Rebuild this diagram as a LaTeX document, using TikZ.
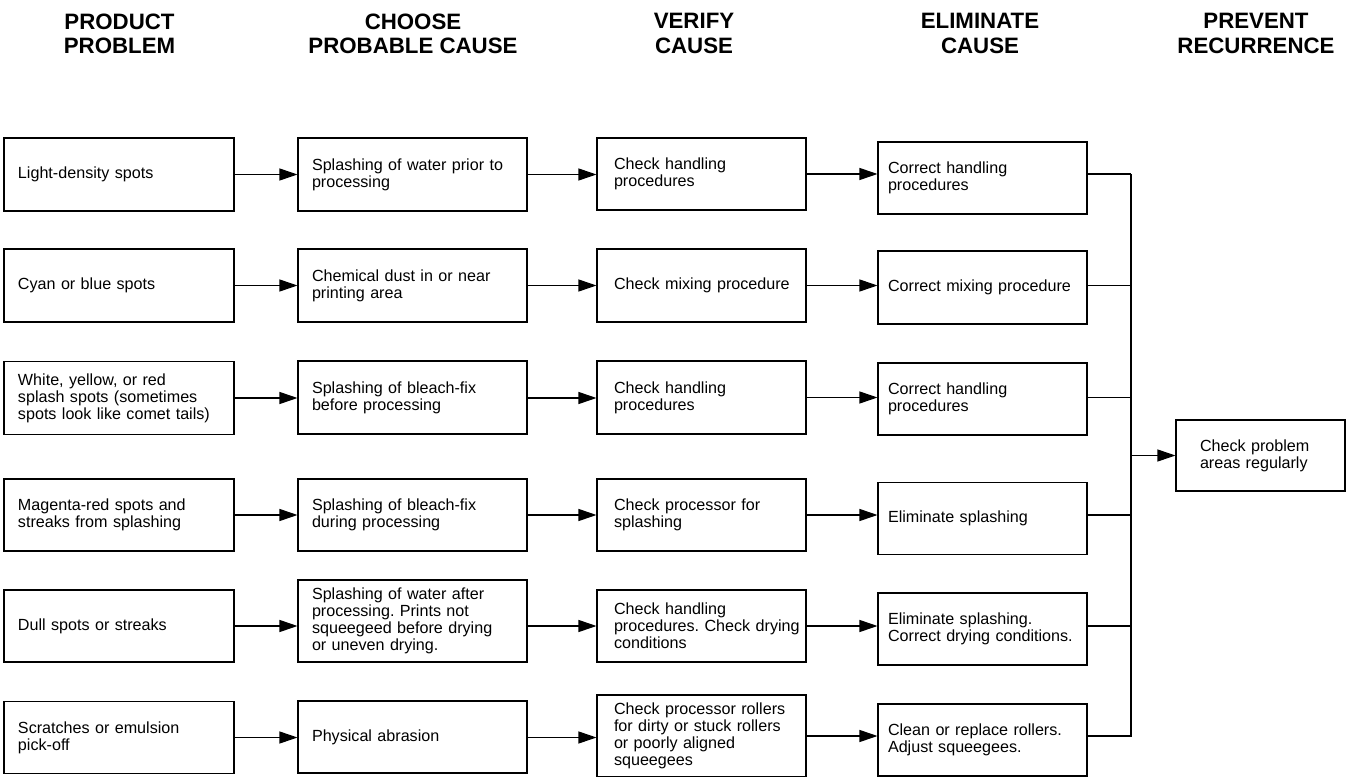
\documentclass[tikz,border=0pt]{standalone}
\usepackage{fontspec}
\setmainfont{Liberation Sans}
\usetikzlibrary{arrows.meta}
\tikzset{
  box/.style={draw=black, line width=0.8pt, rectangle, inner sep=0pt, align=left,
    font=\fontsize{12.1}{12.8}\selectfont},
  cA/.style={box, minimum width=172.5pt, text width=168pt, execute at begin node={\leftskip=8.25pt}},
  cB/.style={box, minimum width=171.75pt, text width=167.25pt, execute at begin node={\leftskip=8.25pt}},
  cC/.style={box, minimum width=156.75pt, text width=152.25pt, execute at begin node={\leftskip=10.5pt}},
  cD/.style={box, minimum width=156.75pt, text width=152.25pt, execute at begin node={\leftskip=5.25pt}},
  cE/.style={box, minimum width=126.75pt, text width=122.25pt, execute at begin node={\leftskip=15.75pt}},
  h72/.style={minimum height=54pt},
  h73/.style={minimum height=54.75pt},
  h82/.style={minimum height=61.5pt},
  hdr/.style={align=center, inner sep=0pt, font=\fontsize{16.7}{18.2}\selectfont\bfseries},
  arr/.style={line width=0.8pt, -{Triangle[length=13.5pt,width=9pt]}},
  ln/.style={line width=0.8pt}
}
\begin{document}
\frenchspacing
\hyphenpenalty=10000
\begin{tikzpicture}[x=0.75pt,y=-0.75pt]
\useasboundingbox (0,0) rectangle (1346,777);
% headers
\node[hdr] (h1) at (119.5,33.5) {PRODUCT\\PROBLEM};
\node[hdr] (h2) at (413,33.5) {CHOOSE\\PROBABLE CAUSE};
\node[hdr] (h3) at (694,33.5) {VERIFY\\CAUSE};
\node[hdr] (h4) at (980,33.5) {ELIMINATE\\CAUSE};
\node[hdr] (h5) at (1256,33.5) {PREVENT\\RECURRENCE};
% row 1
\node[cA,h73] (a1) at (119,174.5) {Light-density spots};
\node[cB,h73] (b1) at (412.5,174.5) {Splashing of water prior to\\processing};
\node[cC,h72] (c1) at (701.5,174) {Check handling\\procedures};
\node[cD,h72] (d1) at (982.5,178) {Correct handling\\procedures};
% row 2
\node[cA,h73] (a2) at (119,285.5) {Cyan or blue spots};
\node[cB,h73] (b2) at (412.5,285.5) {Chemical dust in or near\\printing area};
\node[cC,h73] (c2) at (701.5,285.5) {Check mixing procedure};
\node[cD,h73] (d2) at (982.5,287.5) {Correct mixing procedure};
% row 3
\node[cA,h73] (a3) at (119,398) {White, yellow, or red\\splash spots (sometimes\\spots look like comet tails)};
\node[cB,h73] (b3) at (412.5,397.5) {Splashing of bleach-fix\\before processing};
\node[cC,h73] (c3) at (701.5,397.5) {Check handling\\procedures};
\node[cD,h72] (d3) at (982.5,399) {Correct handling\\procedures};
% row 4
\node[cA,h72] (a4) at (119,515) {Magenta-red spots and\\streaks from splashing};
\node[cB,h72] (b4) at (412.5,515) {Splashing of bleach-fix\\during processing};
\node[cC,h72] (c4) at (701.5,515) {Check processor for\\splashing};
\node[cD,h72] (d4) at (982.5,518.5) {Eliminate splashing};
% row 5
\node[cA,h72] (a5) at (119,626) {Dull spots or streaks};
\node[cB,h82] (b5) at (412.5,621) {Splashing of water after\\processing. Prints not\\squeegeed before drying\\or uneven drying.};
\node[cC,h72] (c5) at (701.5,626) {Check handling\\procedures. Check drying\\conditions};
\node[cD,h72] (d5) at (982.5,629) {Eliminate splashing.\\Correct drying conditions.};
% row 6
\node[cA,h72] (a6) at (119,737.5) {Scratches or emulsion\\pick-off};
\node[cB,h72] (b6) at (412.5,737) {Physical abrasion};
\node[cC,h82] (c6) at (701.5,736) {Check processor rollers\\for dirty or stuck rollers\\or poorly aligned\\squeegees};
\node[cD,h72] (d6) at (982.5,740) {Clean or replace rollers.\\Adjust squeegees.};
% final
\node[cE,minimum height=53.25pt] (e) at (1260.5,455.5) {Check problem\\areas regularly};
% bus coordinates
\coordinate (bt) at (1131,174);
\coordinate (bb) at (1131,737);
% arrows
\foreach \i in {1,...,6}{
  \draw[arr] (a\i.east) -- (a\i.east -| b\i.west);
  \draw[arr] (b\i.east |- a\i.east) -- (a\i.east -| c\i.west);
  \draw[arr] (c\i.east) -- (c\i.east -| d\i.west);
  \draw[ln] (c\i.east -| d\i.east) -- (c\i.east -| bt);
}
\draw[ln] (bt) -- (bb);
\draw[arr] (e.west -| bt) -- (e.west);
\end{tikzpicture}
\end{document}
